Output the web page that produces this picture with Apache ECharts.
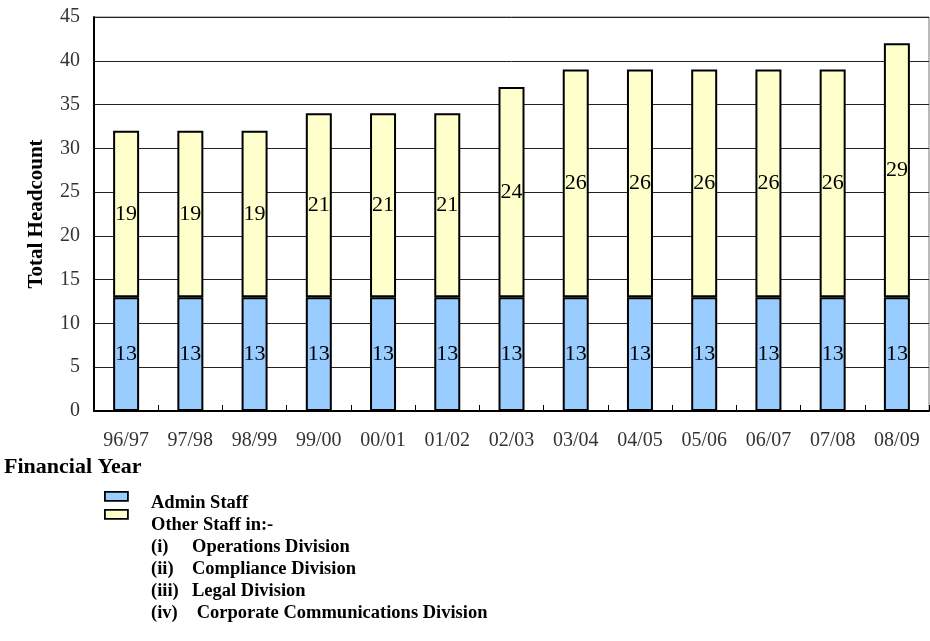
<!DOCTYPE html>
<html>
<head>
<meta charset="utf-8">
<script src="https://cdn.jsdelivr.net/npm/echarts@6/dist/echarts.min.js"></script>
<style>
  html, body { margin: 0; padding: 0; background: #fff; }
  #chart { width: 930px; height: 641px; }
</style>
</head>
<body>
<div id="chart"></div>
<script>
// Financial years on the category axis
const years = ['96/97', '97/98', '98/99', '99/00', '00/01', '01/02', '02/03', '03/04', '04/05', '05/06', '06/07', '07/08', '08/09'];
// Headcount by staff group
const adminStaff = [13, 13, 13, 13, 13, 13, 13, 13, 13, 13, 13, 13, 13];
const otherStaff = [19, 19, 19, 21, 21, 21, 24, 26, 26, 26, 26, 26, 29];
// Legend wording
const legendAdmin = 'Admin Staff';
const legendOther = 'Other Staff in:-';
const divisions = [
  ['(i)', 'Operations Division'],
  ['(ii)', 'Compliance Division'],
  ['(iii)', 'Legal Division'],
  ['(iv)', ' Corporate Communications Division']
];

const serif = '"Liberation Serif", "DejaVu Serif", serif';
const chart = echarts.init(document.getElementById('chart'), null, { renderer: 'canvas' });

const labelStyle = {
  show: true,
  position: 'inside',
  fontFamily: serif,
  fontSize: 22,
  color: '#000'
};

// Hand-built key below the plot
const legendFont = 'bold 18.5px ' + serif;
const key = [];
key.push({ type: 'rect', left: 104, top: 491, shape: { width: 23, height: 9 }, style: { fill: '#99CCFF', stroke: '#000', lineWidth: 1.8 } });
key.push({ type: 'rect', left: 104, top: 509, shape: { width: 23, height: 9 }, style: { fill: '#FFFFCC', stroke: '#000', lineWidth: 1.8 } });
key.push({ type: 'text', left: 151, top: 494, style: { text: legendAdmin, font: legendFont, fill: '#000' } });
key.push({ type: 'text', left: 151, top: 516, style: { text: legendOther, font: legendFont, fill: '#000' } });
divisions.forEach(function (d, i) {
  key.push({ type: 'text', left: 151, top: 538 + i * 22, style: { text: d[0], font: legendFont, fill: '#000' } });
  key.push({ type: 'text', left: 192, top: 538 + i * 22, style: { text: d[1], font: legendFont, fill: '#000' } });
});
key.push({ type: 'text', left: 4, top: 456, style: { text: 'Financial Year', font: 'bold 22px ' + serif, fill: '#000' } });

chart.setOption({
  animation: false,
  backgroundColor: '#fff',
  grid: { left: 94, right: 1, top: 17, bottom: 230, show: true, borderColor: '#777', borderWidth: 1 },
  xAxis: {
    type: 'category',
    data: years,
    axisLine: { lineStyle: { color: '#000', width: 2 } },
    axisTick: { show: true, inside: true, length: 6, lineStyle: { color: '#000' } },
    axisLabel: { fontFamily: serif, fontSize: 20, color: '#333', margin: 20 }
  },
  yAxis: {
    type: 'value',
    min: 0, max: 45, interval: 5,
    name: 'Total Headcount',
    nameLocation: 'middle',
    nameGap: 47,
    nameTextStyle: { fontFamily: serif, fontSize: 21, fontWeight: 'bold', color: '#000' },
    axisLine: { show: true, lineStyle: { color: '#000', width: 2 } },
    axisTick: { show: false },
    axisLabel: { fontFamily: serif, fontSize: 20, color: '#333', margin: 14 },
    splitLine: { lineStyle: { color: '#222', width: 1 } }
  },
  series: [
    {
      name: legendAdmin,
      type: 'bar',
      stack: 'total',
      data: adminStaff,
      barWidth: 26,
      itemStyle: { color: '#99CCFF', borderColor: '#000', borderWidth: 2 },
      label: labelStyle
    },
    {
      name: legendOther,
      type: 'bar',
      stack: 'total',
      data: otherStaff,
      barWidth: 26,
      itemStyle: { color: '#FFFFCC', borderColor: '#000', borderWidth: 2 },
      label: labelStyle
    }
  ],
  graphic: key
});
</script>
</body>
</html>
